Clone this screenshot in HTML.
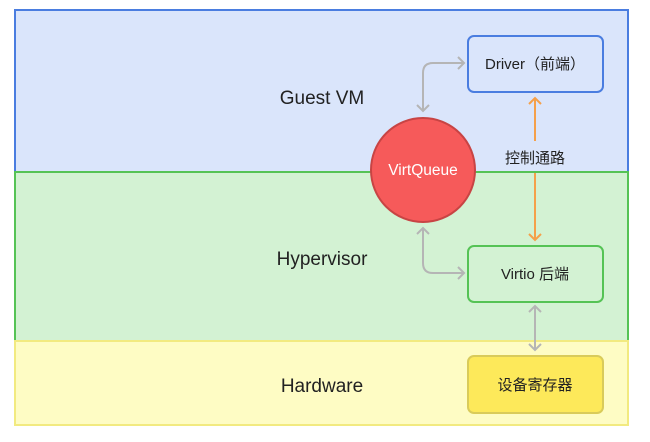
<!DOCTYPE html>
<html><head><meta charset="utf-8"><style>
body{margin:0;background:#fff;width:650px;height:437px;overflow:hidden}
svg text{font-family:"Liberation Sans","Noto Sans CJK SC",sans-serif}
</style></head><body>
<svg width="650" height="437" viewBox="0 0 650 437">
<rect x="15" y="10" width="613" height="162" fill="#dae5fb" stroke="#4a7de0" stroke-width="2"/>
<rect x="15" y="172" width="613" height="169" fill="#d3f2d3" stroke="#55c355" stroke-width="2"/>
<rect x="15" y="341" width="613" height="84" fill="#fefcc4" stroke="#f2ea80" stroke-width="2"/>
<text x="322" y="104" font-size="19" text-anchor="middle" fill="#222">Guest VM</text>
<text x="322" y="265" font-size="19" text-anchor="middle" fill="#222">Hypervisor</text>
<text x="322" y="392" font-size="19" text-anchor="middle" fill="#222">Hardware</text>
<rect x="468" y="36" width="135" height="56" rx="6" fill="#dae5fb" stroke="#4a7de0" stroke-width="2"/>
<text x="535" y="69" font-size="15" text-anchor="middle" fill="#222">Driver（前端）</text>
<rect x="468" y="246" width="135" height="56" rx="6" fill="#d3f2d3" stroke="#55c355" stroke-width="2"/>
<text x="535" y="279" font-size="15" text-anchor="middle" fill="#222">Virtio 后端</text>
<rect x="468" y="356" width="135" height="57" rx="6" fill="#fde95a" stroke="#d9cb5a" stroke-width="2"/>
<text x="535" y="390" font-size="15" text-anchor="middle" fill="#222">设备寄存器</text>
<g fill="none" stroke="#b5b5b5" stroke-width="2">
<path d="M423 111 V73 Q423 63 433 63 H464"/><path d="M417 105 L423 111 L429 105"/><path d="M458 57 L464 63 L458 69"/>
<path d="M423 228 V263 Q423 273 433 273 H464"/><path d="M417 234 L423 228 L429 234"/><path d="M458 267 L464 273 L458 279"/>
<path d="M535 306 V350"/><path d="M529 312 L535 306 L541 312"/><path d="M529 344 L535 350 L541 344"/>
</g>
<g fill="none" stroke="#f5a04a" stroke-width="2">
<path d="M535 98 V141"/><path d="M535 173 V240"/>
<path d="M529 104 L535 98 L541 104"/><path d="M529 234 L535 240 L541 234"/>
</g>
<text x="535" y="163" font-size="15" text-anchor="middle" fill="#222">控制通路</text>
<circle cx="423" cy="170" r="52" fill="#f65a5a" stroke="#c84444" stroke-width="2"/>
<text x="423" y="175" font-size="15.5" text-anchor="middle" fill="#fff">VirtQueue</text>
</svg>
</body></html>
